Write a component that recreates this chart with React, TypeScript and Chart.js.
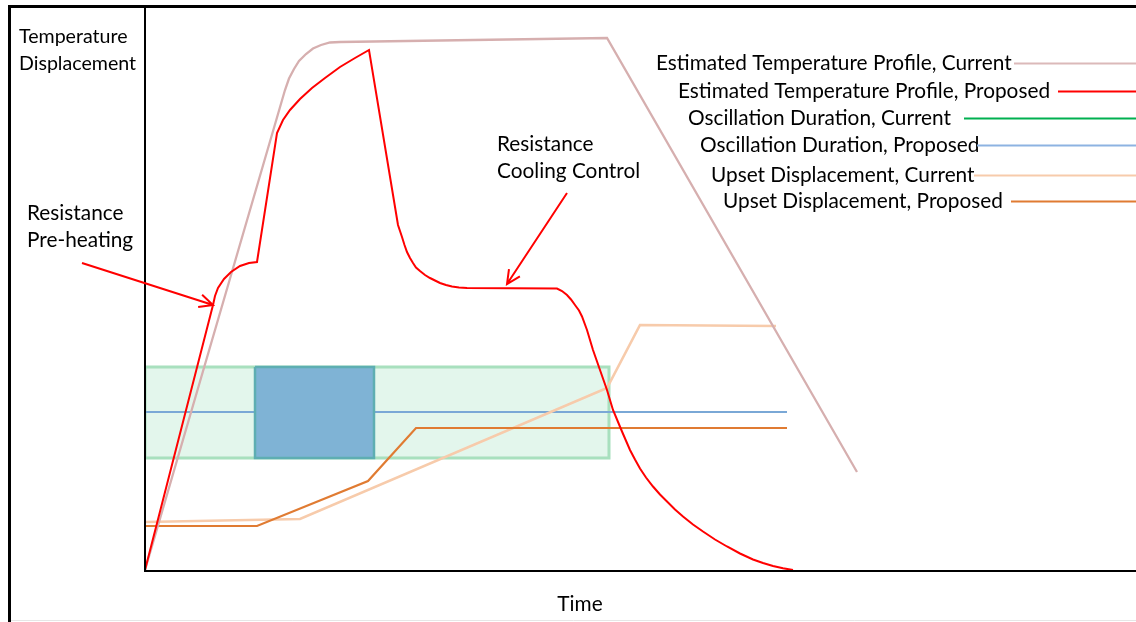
import React, { useEffect, useRef } from "react";
import { Chart, registerables } from "chart.js";

Chart.register(...registerables);

// Series names (legend) and colours
const seriesLabels = [
  "Estimated Temperature Profile, Current",
  "Estimated Temperature Profile, Proposed",
  "Oscillation Duration, Current",
  "Oscillation Duration, Proposed",
  "Upset Displacement, Current",
  "Upset Displacement, Proposed",
];
const seriesColors = ["#dbb9b9", "#ff0000", "#00b050", "#8db3e2", "#f7cbab", "#e07b32"];

// [time, value] pairs (time 0..99, value 0..113)
const tempCurrent: [number, number][] = [
  [0, 0], [14.0, 96.0], [14.4, 98.3], [14.9, 100.2], [15.4, 101.8], [16.1, 103.2],
  [16.8, 104.3], [17.6, 105.0], [18.5, 105.5], [19.5, 105.6], [46.2, 106.4], [71.2, 19.6],
];
const tempProposed: [number, number][] = [
  [0, 0], [6.8, 53], [7.0, 54.8], [7.3, 56.4], [7.9, 58.2], [8.6, 59.6], [9.5, 60.8],
  [10.4, 61.4], [11.2, 61.6], [13.2, 87.4], [13.8, 90], [14.5, 92], [15.5, 94.2],
  [16.7, 96.4], [18.0, 98.4], [19.5, 100.6], [21.0, 102.4], [22.4, 104], [25.3, 69],
  [25.5, 67.8], [25.7, 66.6], [25.95, 65.0], [26.2, 63.6], [26.5, 62.4], [26.8, 61.4],
  [27.1, 60.5], [27.5, 59.8], [28.0, 59.0], [28.5, 58.4], [29.0, 57.9], [29.5, 57.4],
  [30.1, 57.0], [30.7, 56.7], [31.4, 56.5], [32.2, 56.4],
  [41.2, 56.3], [41.7, 55.8], [42.2, 55.0], [42.6, 54.1], [43.0, 53.0], [43.4, 51.9],
  [43.7, 50.7], [44.2, 48.0], [44.8, 44.0], [45.5, 40.0], [46.2, 36.0], [46.8, 32.0],
  [47.7, 27.7], [48.5, 24.0], [49.0, 22.1], [49.5, 20.3], [50.1, 18.5], [50.8, 16.7],
  [51.5, 15.1], [52.2, 13.7], [53.0, 12.1], [53.8, 10.7], [54.8, 9.1], [55.8, 7.7],
  [57.0, 6.1], [58.2, 4.7], [59.5, 3.3], [60.8, 2.1], [61.8, 1.4], [62.8, 0.8],
  [63.8, 0.35], [64.8, 0],
];
// Oscillation windows: [start, end] in time, [low, high] in value
const oscCurrentTime = [0, 46.4];
const oscProposedTime = [11.0, 22.9];
const oscBand = [22.4, 40.6];
const oscProposedLine: [number, number][] = [[0, 31.6], [64.2, 31.6]];
const upsetCurrent: [number, number][] = [
  [0, 9.6], [15.5, 10.2], [46.2, 36.4], [49.5, 49], [63.1, 48.8],
];
const upsetProposed: [number, number][] = [
  [0, 8.8], [11.2, 8.8], [22.3, 17.8], [27.1, 28.4], [64.2, 28.4],
];

// annotations: [tail time, tail value, tip time, tip value]
const preheatArrow = [-6.3, 61.4, 6.8, 53];
const coolingArrow = [42.2, 75.4, 36.2, 57.2];

const FONT = "Lato, 'Open Sans', sans-serif";

const toXY = (arr: [number, number][]) => arr.map(([x, y]) => ({ x, y }));
const boxPoly = (t: number[], b: number[]) => [
  { x: t[0], y: b[1] }, { x: t[1], y: b[1] }, { x: t[1], y: b[0] },
  { x: t[0], y: b[0] }, { x: t[0], y: b[1] },
];

const decor = {
  id: "decor",
  afterDatasetsDraw(chart: any) {
    const ctx = chart.ctx as CanvasRenderingContext2D;
    const xs = chart.scales.x;
    const ys = chart.scales.y;
    const ca = chart.chartArea;
    const W = chart.width;
    const H = chart.height;
    ctx.save();
    // outer frame
    ctx.strokeStyle = "#000";
    ctx.lineWidth = 3;
    ctx.beginPath();
    ctx.moveTo(9.5, H);
    ctx.lineTo(9.5, 6.5);
    ctx.lineTo(W, 6.5);
    ctx.stroke();
    ctx.strokeStyle = "#e6e6e6";
    ctx.lineWidth = 1;
    ctx.beginPath();
    ctx.moveTo(11, H - 1.5);
    ctx.lineTo(W, H - 1.5);
    ctx.stroke();
    // axes
    ctx.strokeStyle = "#000";
    ctx.lineWidth = 2;
    ctx.beginPath();
    ctx.moveTo(ca.left, 6);
    ctx.lineTo(ca.left, ca.bottom + 1);
    ctx.lineTo(W, ca.bottom + 1);
    ctx.stroke();

    // arrows
    const arrow = (a: number[]) => {
      const x0 = xs.getPixelForValue(a[0]);
      const y0 = ys.getPixelForValue(a[1]);
      const x1 = xs.getPixelForValue(a[2]);
      const y1 = ys.getPixelForValue(a[3]);
      const ang = Math.atan2(y1 - y0, x1 - x0);
      const L = 15;
      ctx.strokeStyle = "#ff0000";
      ctx.lineWidth = 2;
      ctx.beginPath();
      ctx.moveTo(x0, y0);
      ctx.lineTo(x1, y1);
      ctx.moveTo(x1 - L * Math.cos(ang - 0.45), y1 - L * Math.sin(ang - 0.45));
      ctx.lineTo(x1, y1);
      ctx.lineTo(x1 - L * Math.cos(ang + 0.45), y1 - L * Math.sin(ang + 0.45));
      ctx.stroke();
    };
    arrow(preheatArrow);
    arrow(coolingArrow);

    // texts
    ctx.fillStyle = "#000";
    ctx.textBaseline = "middle";
    ctx.textAlign = "left";
    ctx.font = `19.6px ${FONT}`;
    ctx.fillText("Temperature", 19, 37);
    ctx.fillText("Displacement", 19, 64);
    ctx.font = `20.8px ${FONT}`;
    ctx.fillText("Resistance", 27, 213);
    ctx.fillText("Pre-heating", 27, 240);
    ctx.fillText("Resistance", 497, 144);
    ctx.fillText("Cooling Control", 497, 171);
    ctx.textAlign = "center";
    ctx.fillText("Time", 580, 604);

    // legend
    const legX = [656, 678, 688, 700, 711, 723];
    const legY = [63, 91, 118, 145, 175, 201];
    const lineX = [1014, 1058, 964, 977, 974, 1011];
    ctx.textAlign = "left";
    seriesLabels.forEach((lab, i) => {
      ctx.fillStyle = "#000";
      ctx.fillText(lab, legX[i], legY[i]);
      ctx.strokeStyle = seriesColors[i];
      ctx.lineWidth = 2;
      ctx.beginPath();
      ctx.moveTo(lineX[i], legY[i] + 0.5);
      ctx.lineTo(W, legY[i] + 0.5);
      ctx.stroke();
    });
    ctx.restore();
  },
};

export default function App() {
  const ref = useRef<HTMLCanvasElement>(null);
  useEffect(() => {
    if (!ref.current) return;
    const chart = new Chart(ref.current, {
      type: "line",
      data: {
        datasets: [
          {
            label: seriesLabels[1],
            data: toXY(tempProposed),
            borderColor: seriesColors[1],
            borderWidth: 2,
            order: 1,
          },
          {
            label: seriesLabels[0],
            data: toXY(tempCurrent),
            borderColor: "#d6afaf",
            borderWidth: 2.3,
            order: 2,
          },
          {
            label: seriesLabels[5],
            data: toXY(upsetProposed),
            borderColor: seriesColors[5],
            borderWidth: 2.2,
            order: 3,
          },
          {
            label: seriesLabels[4],
            data: toXY(upsetCurrent),
            borderColor: seriesColors[4],
            borderWidth: 2.6,
            order: 4,
          },
          {
            label: seriesLabels[3] + " window",
            data: boxPoly(oscProposedTime, oscBand),
            borderColor: "#5eaeb2",
            backgroundColor: "#7fb3d5",
            borderWidth: 2.5,
            fill: "shape",
            order: 5,
          },
          {
            label: seriesLabels[3],
            data: toXY(oscProposedLine),
            borderColor: "#7aa8d6",
            borderWidth: 2,
            order: 6,
          },
          {
            label: seriesLabels[2],
            data: boxPoly(oscCurrentTime, oscBand),
            borderColor: "#a8e0be",
            backgroundColor: "rgba(0,176,80,0.11)",
            borderWidth: 3,
            fill: "shape",
            order: 7,
          },
        ] as any,
      },
      options: {
        responsive: false,
        devicePixelRatio: 1,
        animation: false,
        events: [],
        layout: { padding: { left: 145, right: 0, top: 5, bottom: 52 } },
        elements: { point: { radius: 0 }, line: { tension: 0 } },
        plugins: { legend: { display: false }, tooltip: { enabled: false } },
        scales: {
          x: { type: "linear", min: 0, max: 99.1, display: false },
          y: { type: "linear", min: 0, max: 113, display: false },
        },
      },
      plugins: [decor],
    });
    return () => chart.destroy();
  }, []);
  return (
    <div style={{ position: "absolute", left: 0, top: 0, width: 1136, height: 622, background: "#fff" }}>
      <canvas ref={ref} width={1136} height={622} style={{ width: 1136, height: 622, display: "block" }} />
    </div>
  );
}
